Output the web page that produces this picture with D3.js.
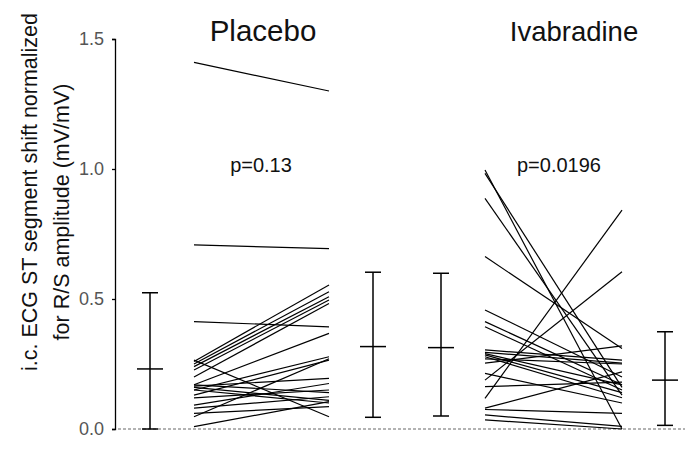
<!DOCTYPE html>
<html>
<head>
<meta charset="utf-8">
<script src="https://cdn.jsdelivr.net/npm/d3@7"></script>
<style>
  body { margin: 0; background: #fff; }
  svg { font-family: "Liberation Sans", Arial, sans-serif; }
</style>
</head>
<body>
<svg id="chart" width="685" height="450"></svg>
<script>
// groups and p-values
var groups = ["Placebo", "Ivabradine"];
var pValues = ["p=0.13", "p=0.0196"];
var yTicks = [0, 0.5, 1.0, 1.5];

// paired values [before, after]
var placeboPairs = [
  [1.41, 1.30], [0.708, 0.694], [0.413, 0.393], [0.265, 0.047], [0.26, 0.554],
  [0.25, 0.528], [0.24, 0.509], [0.227, 0.496], [0.20, 0.483], [0.17, 0.368],
  [0.16, 0.11], [0.15, 0.278], [0.13, 0.265], [0.165, 0.195], [0.15, 0.10],
  [0.12, 0.15], [0.092, 0.175], [0.08, 0.124], [0.06, 0.086], [0.047, 0.27],
  [0.009, 0.105], [0.17, 0.14]
];
var ivabPairs = [
  [0.996, 0.0], [0.983, 0.16], [0.887, 0.13], [0.663, 0.31], [0.458, 0.20],
  [0.413, 0.17], [0.393, 0.15], [0.118, 0.842], [0.188, 0.605], [0.304, 0.265],
  [0.295, 0.253], [0.285, 0.14], [0.278, 0.12], [0.27, 0.25], [0.253, 0.32],
  [0.214, 0.10], [0.163, 0.18], [0.08, 0.22], [0.075, 0.06], [0.054, 0.01],
  [0.035, 0.0], [0.29, 0.17]
];

// mean and SD bars: [mean, low, high]
var placeboPreStat = [0.231, 0.0, 0.524];
var placeboPostStat = [0.317, 0.045, 0.603];
var ivabPreStat = [0.313, 0.05, 0.599];
var ivabPostStat = [0.188, 0.014, 0.374];

var svg = d3.select("#chart");

var y = d3.scaleLinear().domain([0, 1.5]).range([429, 39]);

// horizontal slots
var slots = ["pBarPre", "pPre", "pPost", "pBarPost", "iBarPre", "iPre", "iPost", "iBarPost"];
var x = d3.scaleOrdinal().domain(slots).range([150, 194, 329, 373, 441, 485, 622, 665]);

// dotted baseline
svg.append("line")
  .attr("x1", 118).attr("x2", 685)
  .attr("y1", y(0)).attr("y2", y(0))
  .attr("stroke", "#666")
  .attr("stroke-width", 1)
  .attr("stroke-dasharray", "3,2");

// y axis
var yAxis = d3.axisLeft(y).tickValues(yTicks).tickFormat(d3.format(".1f")).tickSize(3).tickPadding(8);
var ax = svg.append("g")
  .attr("transform", "translate(115,0)")
  .call(yAxis);
ax.select(".domain").attr("stroke", "#000").attr("stroke-width", 1.3);
ax.selectAll(".tick line").attr("stroke", "#000").attr("stroke-width", 1.3);
ax.selectAll("text")
  .attr("font-size", 18)
  .attr("fill", "#555")
  .style("font-family", "Liberation Sans, Arial, sans-serif");

// y title
var title = svg.append("text")
  .attr("transform", "rotate(-90)")
  .attr("text-anchor", "middle")
  .attr("font-size", 21.5)
  .attr("fill", "#111");
title.append("tspan").attr("x", -192).attr("y", 37).text("i.c. ECG ST segment shift normalized");
title.append("tspan").attr("x", -212).attr("y", 69).text("for R/S amplitude (mV/mV)");

// paired lines
function drawPairs(pairs, s0, s1) {
  svg.append("g")
    .selectAll("line")
    .data(pairs)
    .enter()
    .append("line")
    .attr("x1", x(s0))
    .attr("x2", x(s1))
    .attr("y1", function (d) { return y(d[0]); })
    .attr("y2", function (d) { return y(d[1]); })
    .attr("stroke", "#000")
    .attr("stroke-width", 1.2);
}
drawPairs(placeboPairs, "pPre", "pPost");
drawPairs(ivabPairs, "iPre", "iPost");

// error bars
function errBar(stat, slot) {
  var g = svg.append("g").attr("stroke", "#000").attr("stroke-width", 1.5);
  var cx = x(slot);
  g.append("line").attr("x1", cx).attr("x2", cx).attr("y1", y(stat[2])).attr("y2", y(stat[1]));
  g.append("line").attr("x1", cx - 8).attr("x2", cx + 8).attr("y1", y(stat[2])).attr("y2", y(stat[2]));
  g.append("line").attr("x1", cx - 8).attr("x2", cx + 8).attr("y1", y(stat[1])).attr("y2", y(stat[1]));
  g.append("line").attr("x1", cx - 13).attr("x2", cx + 13).attr("y1", y(stat[0])).attr("y2", y(stat[0]));
}
errBar(placeboPreStat, "pBarPre");
errBar(placeboPostStat, "pBarPost");
errBar(ivabPreStat, "iBarPre");
errBar(ivabPostStat, "iBarPost");

// group titles and p-values
var titleX = [263, 574];
var titleSize = [29.5, 27.5];
var pX = [261, 559];
svg.selectAll(".grp")
  .data(groups)
  .enter()
  .append("text")
  .attr("class", "grp")
  .attr("x", function (d, i) { return titleX[i]; })
  .attr("y", 41)
  .attr("text-anchor", "middle")
  .attr("font-size", function (d, i) { return titleSize[i]; })
  .attr("fill", "#111")
  .text(function (d) { return d; });

svg.selectAll(".pv")
  .data(pValues)
  .enter()
  .append("text")
  .attr("class", "pv")
  .attr("x", function (d, i) { return pX[i]; })
  .attr("y", 172)
  .attr("text-anchor", "middle")
  .attr("font-size", 20)
  .attr("fill", "#111")
  .text(function (d) { return d; });
</script>
</body>
</html>
